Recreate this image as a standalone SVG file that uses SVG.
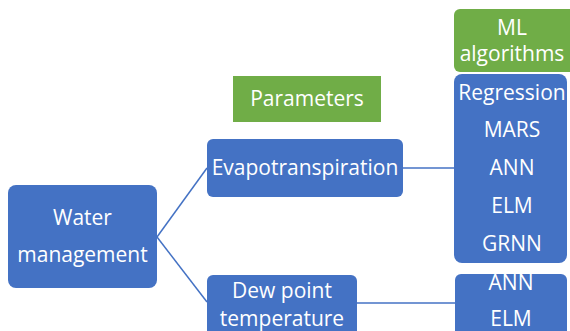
<svg xmlns="http://www.w3.org/2000/svg" width="570" height="331" viewBox="0 0 570 331">
  <style>
    .blue { fill: #4472C4; }
    .green { fill: #70AD47; }
    .lbl { font-family: "Open Sans", "Noto Sans", "DejaVu Sans", sans-serif; font-size: 21px; fill: #ffffff; text-anchor: middle; }
    .link { stroke: #4472C4; stroke-width: 1.5; fill: none; }
  </style>
  <rect width="570" height="331" fill="#ffffff"/>

  <g id="connectors">
    <path class="link" d="M157 237 L207 168"/>
    <path class="link" d="M157 237 L207 302"/>
    <path class="link" d="M403 168 L455 168"/>
    <path class="link" d="M357 303 L455 303"/>
  </g>

  <g id="water-management">
    <rect class="blue" x="8" y="185" width="149" height="103" rx="8"/>
    <text class="lbl" x="82.5" y="225">Water</text>
    <text class="lbl" x="82.5" y="262">management</text>
  </g>

  <g id="parameters">
    <rect class="green" x="233" y="76" width="148" height="46"/>
    <text class="lbl" x="307" y="106">Parameters</text>
  </g>

  <g id="evapotranspiration">
    <rect class="blue" x="207" y="139" width="196" height="58" rx="6"/>
    <text class="lbl" x="305" y="175">Evapotranspiration</text>
  </g>

  <g id="dew-point">
    <rect class="blue" x="207" y="275" width="150" height="66" rx="6"/>
    <text class="lbl" x="282" y="298">Dew point</text>
    <text class="lbl" x="282" y="326">temperature</text>
  </g>

  <g id="ml-algorithms">
    <rect class="green" x="454" y="9" width="124" height="63" rx="6"/>
    <text class="lbl" x="512" y="35">ML</text>
    <text class="lbl" x="512" y="61">algorithms</text>
  </g>

  <g id="methods-evapotranspiration">
    <rect class="blue" x="454" y="74" width="113" height="189" rx="8"/>
    <text class="lbl" x="512" y="100">Regression</text>
    <text class="lbl" x="512" y="137">MARS</text>
    <text class="lbl" x="512" y="175">ANN</text>
    <text class="lbl" x="512" y="213">ELM</text>
    <text class="lbl" x="512" y="251">GRNN</text>
  </g>

  <g id="methods-dew-point">
    <rect class="blue" x="455" y="274" width="112" height="67" rx="6"/>
    <text class="lbl" x="511" y="290">ANN</text>
    <text class="lbl" x="511" y="326">ELM</text>
  </g>
</svg>
